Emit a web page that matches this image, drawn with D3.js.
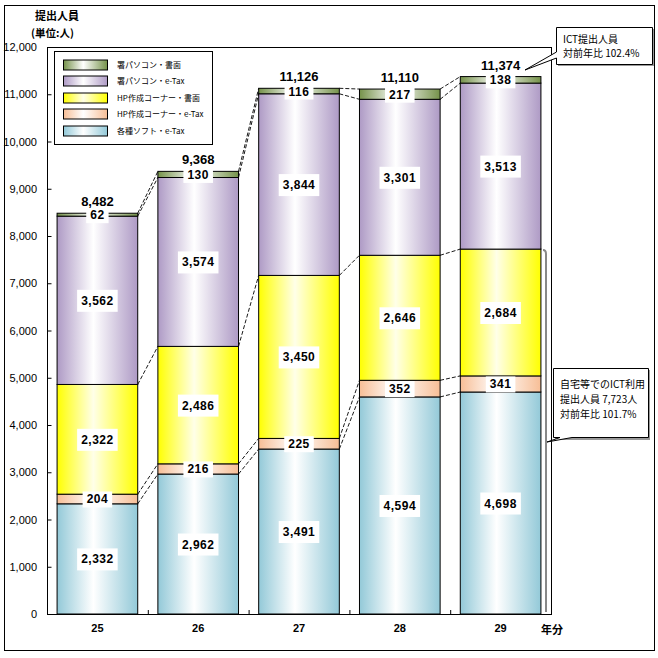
<!DOCTYPE html>
<html><head><meta charset="utf-8">
<script src="https://cdn.jsdelivr.net/npm/d3@7"></script>
<style>body{margin:0;background:#fff}svg{display:block}</style>
</head><body>
<script>
const years = ["25","26","27","28","29"];
const seriesNames = ["各種ソフト・e-Tax","HP作成コーナー・e-Tax","HP作成コーナー・書面","署パソコン・e-Tax","署パソコン・書面"];
const softETax   = [2332, 2962, 3491, 4594, 4698];
const hpETax     = [204, 216, 225, 352, 341];
const hpShomen   = [2322, 2486, 3450, 2646, 2684];
const pcETax     = [3562, 3574, 3844, 3301, 3513];
const pcShomen   = [62, 130, 116, 217, 138];
const yTicks = [0,1000,2000,3000,4000,5000,6000,7000,8000,9000,10000,11000,12000];
const colors = ["#93C9D8","#F7BE96","#FFFF00","#AE9AC5","#75924A"];
const mids   = ["#FFFFFF","#FFFFFF","#FFFFE8","#FFFFFF","#FFFFFF"];

const W=658,H=658;
const svg=d3.select("body").append("svg").attr("width",W).attr("height",H);
const defs=svg.append("defs");
colors.forEach((c,i)=>{
  const g=defs.append("linearGradient").attr("id","g"+i).attr("x1","0").attr("x2","1").attr("y1","0").attr("y2","0");
  g.append("stop").attr("offset","0%").attr("stop-color",c);
  g.append("stop").attr("offset","45%").attr("stop-color",mids[i]);
  g.append("stop").attr("offset","100%").attr("stop-color",c);
});
const fNum="'Liberation Sans',Arial,sans-serif";
const fJp="'Noto Sans CJK JP',sans-serif";

// outer border
svg.append("rect").attr("x",4.5).attr("y",5.5).attr("width",650).attr("height",645).attr("fill","none").attr("stroke","#000").attr("stroke-width",1);

const L=47,R=551,T=47,B=614;
const x=d3.scaleBand().domain(years).range([L,R]).paddingInner(0.2).paddingOuter(0.1);
const y=d3.scaleLinear().domain([0,12000]).range([B,T]);

const data=[softETax,hpETax,hpShomen,pcETax,pcShomen];
const table=years.map((yr,i)=>{const o={year:yr};seriesNames.forEach((s,k)=>o[s]=data[k][i]);return o;});
const stacked=d3.stack().keys(seriesNames)(table);

// plot frame
svg.append("rect").attr("x",L+0.5).attr("y",T+0.5).attr("width",R-L).attr("height",B-T).attr("fill","none").attr("stroke","#000");

// y axis
const ya=svg.append("g").attr("transform",`translate(${L+0.5},0)`)
  .call(d3.axisRight(y).tickValues(yTicks).tickSize(4).tickFormat(""));
ya.select(".domain").remove();
svg.append("g").selectAll("text").data(yTicks).join("text")
  .attr("x",37).attr("y",d=>y(d)+4).attr("text-anchor","end")
  .attr("font-family",fNum).attr("font-size",11).text(d3.format(","));

// x axis ticks at band boundaries
const step=x.step();
const bounds=d3.range(1,years.length).map(i=>L+step*i);
svg.append("g").selectAll("line").data(bounds).join("line")
  .attr("x1",d=>d+0.5).attr("x2",d=>d+0.5).attr("y1",B).attr("y2",B-4).attr("stroke","#000");
svg.append("g").selectAll("text").data(years).join("text")
  .attr("x",d=>x(d)+x.bandwidth()/2).attr("y",632).attr("text-anchor","middle")
  .attr("font-family",fNum).attr("font-weight","bold").attr("font-size",11).text(d=>d);
svg.append("text").attr("x",541).attr("y",634).attr("font-family",fJp).attr("font-weight","bold").attr("font-size",11).text("年分");

// dashed connectors
const bw=x.bandwidth();
for(let i=0;i<years.length-1;i++){
  for(let k=0;k<seriesNames.length;k++){
    svg.append("line")
      .attr("x1",x(years[i])+bw).attr("y1",y(stacked[k][i][1]))
      .attr("x2",x(years[i+1])).attr("y2",y(stacked[k][i+1][1]))
      .attr("stroke","#000").attr("stroke-width",0.9).attr("stroke-dasharray","4,2");
  }
}

// bars
stacked.forEach((s,k)=>{
  svg.append("g").selectAll("rect").data(s).join("rect")
    .attr("x",d=>x(d.data.year)).attr("width",bw)
    .attr("y",d=>y(d[1])).attr("height",d=>y(d[0])-y(d[1]))
    .attr("fill",`url(#g${k})`).attr("stroke","#000").attr("stroke-width",1);
});

// segment labels
stacked.forEach((s,k)=>{
  s.forEach(d=>{
    const cx=x(d.data.year)+bw/2, cy=(y(d[0])+y(d[1]))/2;
    const g=svg.append("g");
    const t=g.append("text").attr("x",cx).attr("y",cy+4.5).attr("text-anchor","middle")
      .attr("font-family",fNum).attr("font-weight","bold").attr("font-size",12)
      .attr("letter-spacing",0.5)
      .text(d3.format(",")(d[1]-d[0]));
    const bb=t.node().getBBox();
    const small=(y(d[0])-y(d[1]))<20;
    const ph=small?1:4;
    g.insert("rect","text").attr("x",bb.x-4).attr("y",bb.y-ph).attr("width",bb.width+8).attr("height",bb.height+2*ph).attr("fill","#fff");
  });
});

// totals
svg.append("g").selectAll("text").data(stacked[4]).join("text")
  .attr("x",d=>x(d.data.year)+bw/2).attr("y",d=>y(d[1])-7).attr("text-anchor","middle")
  .attr("font-family",fNum).attr("font-weight","bold").attr("font-size",13)
  .text(d=>d3.format(",")(d[1]));

// title
svg.append("text").attr("x",35).attr("y",20).attr("font-family",fJp).attr("font-size",11).attr("font-weight","bold").text("提出人員");
svg.append("text").attr("x",31).attr("y",37).attr("font-family",fJp).attr("font-size",10.5).attr("font-weight","bold").text("(単位:人)");

// legend
const lg=svg.append("g");
lg.append("rect").attr("x",54.5).attr("y",51.5).attr("width",158).attr("height",93).attr("fill","#fff").attr("stroke","#000");
const order=[4,3,2,1,0];
const legendRows=[65,81,98,114,131];
order.forEach((k,j)=>{
  lg.append("rect").attr("x",63.5).attr("y",legendRows[j]-5).attr("width",44).attr("height",10)
    .attr("fill",`url(#g${k})`).attr("stroke","#000").attr("stroke-width",1);
  lg.append("text").attr("x",117).attr("y",legendRows[j]+3).attr("font-family",fJp).attr("font-size",8).text(seriesNames[k]);
});

// ICT bracket
const top29=y(stacked[2][4][1]);
svg.append("path").attr("d",`M543,${top29+1} Q546,${top29+1} 546,${top29+5} L546,${B-2}`)
  .attr("fill","none").attr("stroke","#888").attr("stroke-width",2);

// callout 1
const c1=svg.append("g");
c1.append("rect").attr("x",558).attr("y",29).attr("width",96).attr("height",37).attr("fill","#999");
c1.append("path").attr("d","M556.5,27.5 H652.5 V64.5 H556.5 V58 L525,70 L556.5,52 Z").attr("fill","#fff").attr("stroke","#000");
c1.append("text").attr("x",563).attr("y",43).attr("font-family",fJp).attr("font-size",10).text("ICT提出人員");
c1.append("text").attr("x",563).attr("y",57).attr("font-family",fJp).attr("font-size",10).text("対前年比 102.4%");

// callout 2
const c2=svg.append("g");
c2.append("rect").attr("x",555).attr("y",370).attr("width",95).attr("height",70).attr("fill","#999");
c2.append("path").attr("d","M553.5,368.5 H648.5 V437.5 H572 L547,442 L560,437.5 H553.5 Z").attr("fill","#fff").attr("stroke","#000");
c2.append("text").attr("x",560).attr("y",388).attr("font-family",fJp).attr("font-size",10).text("自宅等でのICT利用");
c2.append("text").attr("x",560).attr("y",403).attr("font-family",fJp).attr("font-size",10).text("提出人員 7,723人");
c2.append("text").attr("x",560).attr("y",418).attr("font-family",fJp).attr("font-size",10).text("対前年比 101.7%");
</script>
</body></html>
